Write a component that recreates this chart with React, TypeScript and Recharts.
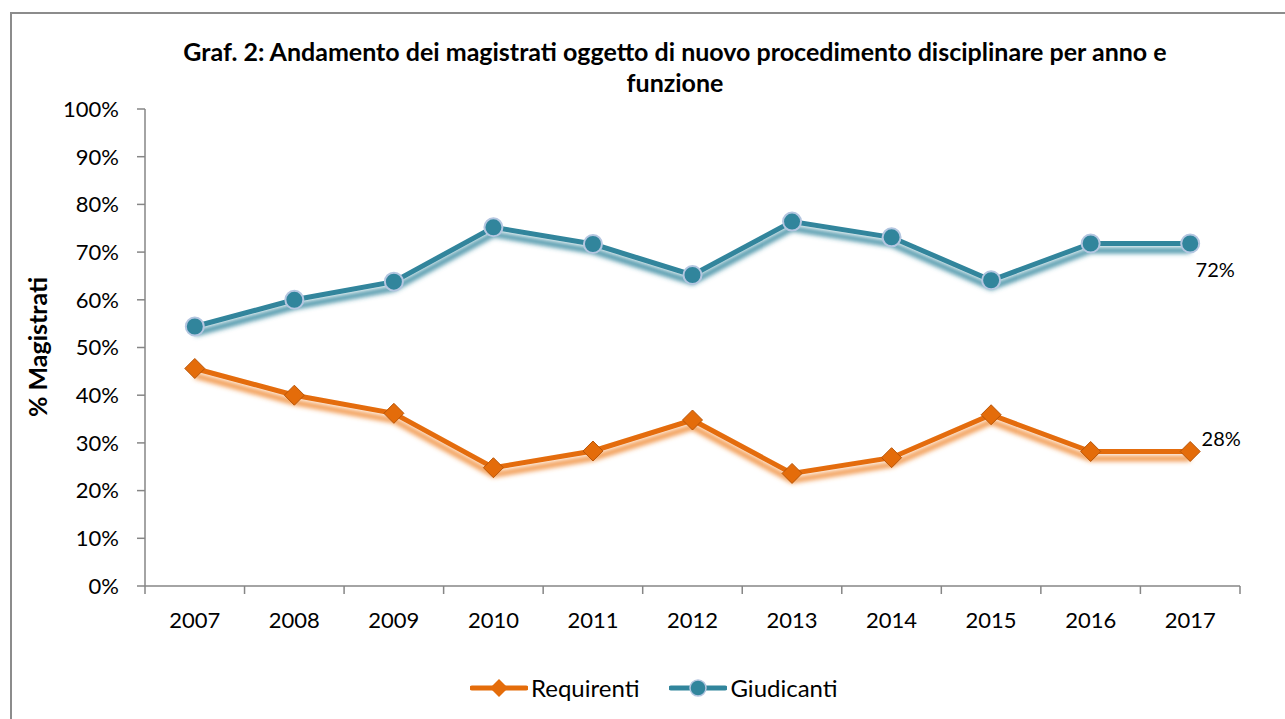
import { LineChart, Line, XAxis, YAxis, LabelList } from 'recharts';

const years = ['2007', '2008', '2009', '2010', '2011', '2012', '2013', '2014', '2015', '2016', '2017'];
const requirenti = [45.6, 40.0, 36.2, 24.8, 28.3, 34.8, 23.6, 26.9, 35.9, 28.2, 28.2];
const giudicanti = [54.4, 60.0, 63.8, 75.2, 71.7, 65.2, 76.4, 73.1, 64.1, 71.8, 71.8];
const yTicks = [0, 10, 20, 30, 40, 50, 60, 70, 80, 90, 100];

const data = years.map((year, i) => ({
  year,
  requirenti: requirenti[i],
  giudicanti: giudicanti[i],
}));

const ORANGE = '#E46C0A';
const TEAL = '#31859C';
const AXIS = '#868686';
const FONT = 'Lato, "Open Sans", sans-serif';
const HALF = 49.8;

function XTick(props: any) {
  const { x, y, payload, index } = props;
  const last = index === years.length - 1;
  return (
    <g>
      <line x1={x - HALF} y1={y} x2={x - HALF} y2={y + 8} stroke={AXIS} strokeWidth={1.5} />
      {last && <line x1={x + HALF} y1={y} x2={x + HALF} y2={y + 8} stroke={AXIS} strokeWidth={1.5} />}
      <text x={x} y={y + 42} textAnchor="middle" fontSize={22} fill="#000" fontFamily={FONT}>
        {payload.value}
      </text>
    </g>
  );
}

function Diamond(props: any) {
  const { cx, cy } = props;
  if (cx == null || cy == null) return null;
  const s = 10;
  return (
    <polygon
      points={`${cx},${cy - s} ${cx + s},${cy} ${cx},${cy + s} ${cx - s},${cy}`}
      fill={ORANGE}
      stroke="#B85508"
      strokeWidth={1}
    />
  );
}

function Circle(props: any) {
  const { cx, cy } = props;
  if (cx == null || cy == null) return null;
  return <circle cx={cx} cy={cy} r={9} fill={TEAL} stroke="#B4C6E0" strokeWidth={2} />;
}

function lastLabel(dx: number, dy: number) {
  return (props: any) => {
    const { x, y, index, value } = props;
    if (index !== years.length - 1) return null;
    return (
      <text x={x + dx} y={y + dy} textAnchor="middle" dominantBaseline="central" fontSize={20} fontFamily={FONT} fill="#000">
        {`${Math.round(value)}%`}
      </text>
    );
  };
}

export default function App() {
  return (
    <div style={{ position: 'fixed', left: 0, top: 0, width: 1285, height: 719, overflow: 'hidden', background: '#fff' }}>
      <svg width={0} height={0} style={{ position: 'absolute' }}>
        <defs>
          <filter id="shTeal" x="-10%" y="-30%" width="120%" height="180%">
            <feDropShadow dx={0} dy={7} stdDeviation={2.5} floodColor={TEAL} floodOpacity={1} />
          </filter>
          <filter id="shOrange" x="-10%" y="-30%" width="120%" height="180%">
            <feDropShadow dx={0} dy={7} stdDeviation={2.5} floodColor="#F08A35" floodOpacity={1} />
          </filter>
        </defs>
      </svg>
      <style>{`.line-teal{filter:url(#shTeal)} .line-orange{filter:url(#shOrange)}`}</style>
      <div
        style={{
          position: 'absolute',
          left: 10,
          top: 12,
          width: 1300,
          height: 720,
          border: '2px solid #8C8C8C',
        }}
      />
      <div
        style={{
          position: 'absolute',
          left: 100,
          top: 36,
          width: 1150,
          textAlign: 'center',
          fontFamily: FONT,
          fontWeight: 700,
          fontSize: 25,
          lineHeight: '31px',
          color: '#000',
        }}
      >
        Graf. 2: Andamento dei magistrati oggetto di nuovo procedimento disciplinare per anno e
        <br />
        funzione
      </div>
      <div style={{ position: 'absolute', left: 0, top: 0 }}>
        <LineChart width={1285} height={719} data={data} margin={{ top: 109, right: 45, bottom: 103, left: 0 }}>
          <XAxis
            dataKey="year"
            height={30}
            padding={{ left: HALF, right: HALF }}
            stroke={AXIS}
            strokeWidth={1.5}
            tickLine={false}
            tickSize={0}
            tickMargin={0}
            tick={<XTick />}
            interval={0}
          />
          <YAxis
            width={145}
            domain={[0, 100]}
            ticks={yTicks}
            interval={0}
            tickFormatter={(v) => `${v}%`}
            stroke={AXIS}
            strokeWidth={1.5}
            tickSize={8}
            tickMargin={18}
            tick={{ fill: '#000', fontSize: 22, fontFamily: FONT }}
            label={{
              content: () => (
                <text
                  x={37}
                  y={347}
                  transform="rotate(-90 37 347)"
                  textAnchor="middle"
                  dominantBaseline="central"
                  fontSize={25}
                  fontWeight={700}
                  fontFamily={FONT}
                  fill="#000"
                >
                  % Magistrati
                </text>
              ),
            }}
          />
          <Line
            className="line-orange"
            dataKey="requirenti"
            stroke={ORANGE}
            strokeWidth={5}
            dot={<Diamond />}
            activeDot={false}
            isAnimationActive={false}
          >
            <LabelList dataKey="requirenti" content={lastLabel(31, -13)} />
          </Line>
          <Line
            className="line-teal"
            dataKey="giudicanti"
            stroke={TEAL}
            strokeWidth={5}
            dot={<Circle />}
            activeDot={false}
            isAnimationActive={false}
          >
            <LabelList dataKey="giudicanti" content={lastLabel(25, 25)} />
          </Line>
        </LineChart>
      </div>
      <div
        style={{
          position: 'absolute',
          left: 470,
          top: 673,
          display: 'flex',
          alignItems: 'center',
          fontFamily: FONT,
          fontSize: 24,
          color: '#000',
        }}
      >
        <svg width={58} height={28}>
          <line x1={2} y1={14} x2={56} y2={14} stroke={ORANGE} strokeWidth={5} strokeLinecap="round" />
          <polygon points="29,5 38,14 29,23 20,14" fill={ORANGE} />
        </svg>
        <span style={{ marginLeft: 3 }}>Requirenti</span>
        <svg width={58} height={28} style={{ marginLeft: 30 }}>
          <line x1={2} y1={14} x2={56} y2={14} stroke={TEAL} strokeWidth={5} strokeLinecap="round" />
          <circle cx={29} cy={14} r={8} fill={TEAL} stroke="#B4C6E0" strokeWidth={1.5} />
        </svg>
        <span style={{ marginLeft: 3 }}>Giudicanti</span>
      </div>
    </div>
  );
}
